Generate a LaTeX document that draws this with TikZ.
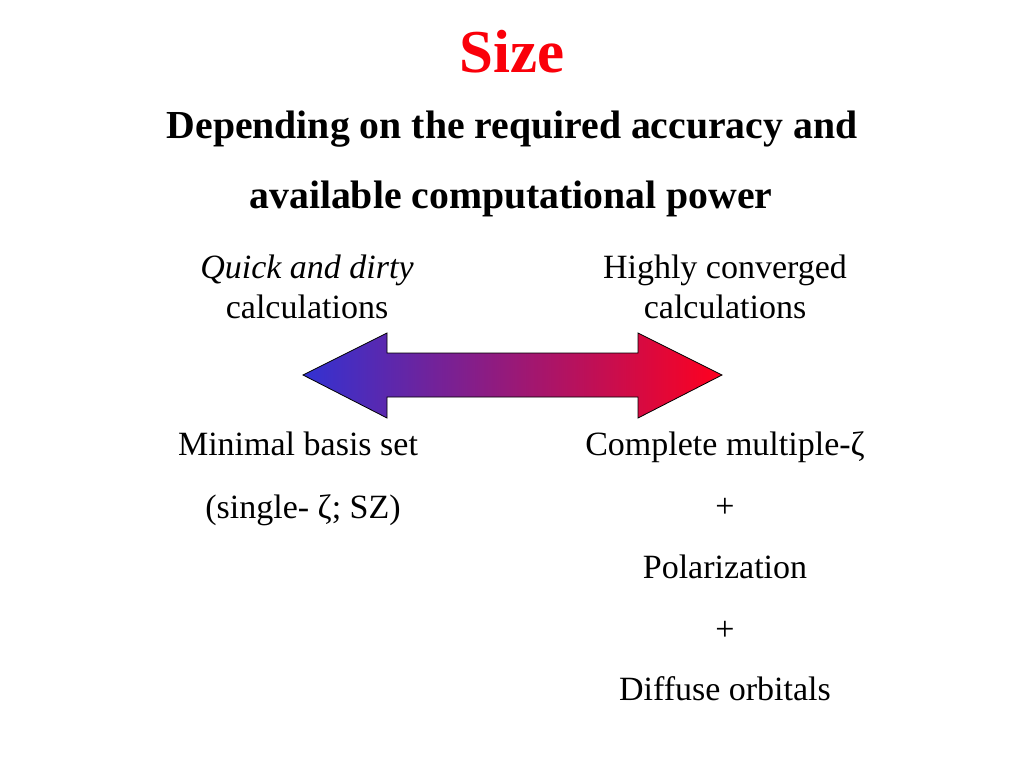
\documentclass[tikz,border=0pt]{standalone}
\usepackage{fontspec}
\setmainfont{Liberation Serif}
\definecolor{titlered}{RGB}{250,0,10}
\definecolor{arrblue}{RGB}{50,50,210}
\definecolor{arrmid}{RGB}{185,38,155}
\definecolor{arrred}{RGB}{255,0,30}
\begin{document}
\begin{tikzpicture}[x=0.75pt,y=-0.75pt,
  txt/.style={anchor=base,inner sep=0pt,font=\fontsize{25.5}{30}\selectfont},
  head/.style={anchor=base,inner sep=0pt,font=\fontsize{29.8}{35}\selectfont\bfseries}]
\useasboundingbox[fill=white] (0,0) rectangle (1024,768);
\node[anchor=base,inner sep=0pt,text=titlered,font=\fontsize{45.7}{50}\selectfont\bfseries] (title) at (512,72) {Size};
\node[head] (h1) at (512,138) {Depending on the required accuracy and};
\node[head] (h2) at (511,208) {available computational power};
\node[txt] (q1) at (307,278) {\itshape Quick and dirty};
\node[txt] (q2) at (307,318) {calculations};
\node[txt] (c1) at (725,278) {Highly converged};
\node[txt] (c2) at (725,318) {calculations};
\path[draw=black,line width=0.6pt,left color=arrblue,middle color=arrmid,right color=arrred]
  (303,375) -- (387,333) -- (387,353) -- (638,353) -- (638,333) -- (722,375)
  -- (638,418) -- (638,397) -- (387,397) -- (387,418) -- cycle;
\node[txt] (m1) at (298,455) {Minimal basis set};
\node[txt] (m2) at (303,518) {(single- ζ; SZ)};
\node[txt] (r1) at (725,455) {Complete multiple-ζ};
\node[txt] (r2) at (725,517) {+};
\node[txt] (r3) at (725,578) {Polarization};
\node[txt] (r4) at (725,640) {+};
\node[txt] (r5) at (725,700) {Diffuse orbitals};
\end{tikzpicture}
\end{document}
